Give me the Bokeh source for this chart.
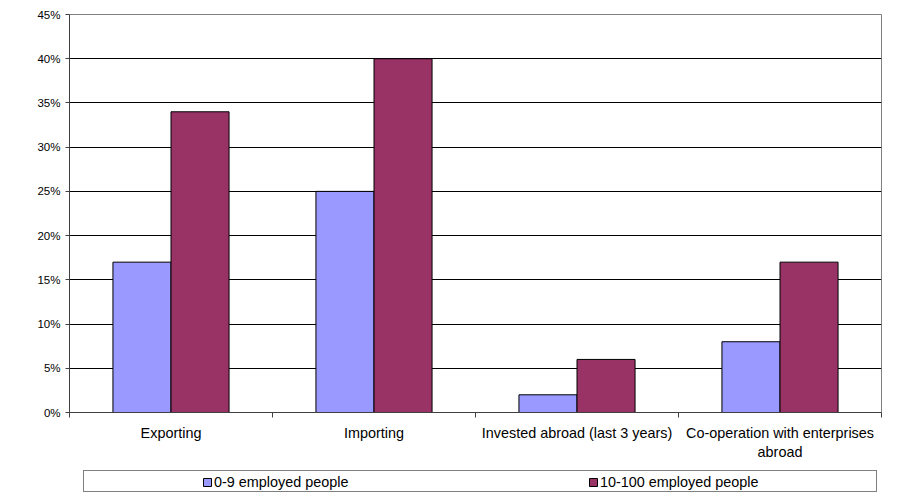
from bokeh.plotting import figure
from bokeh.layouts import column
from bokeh.models import (ColumnDataSource, Range1d, FixedTicker,
                          PrintfTickFormatter, Legend, LegendItem)
from bokeh.embed import file_html
from bokeh.resources import INLINE

# Share of enterprises (%) by activity and enterprise size
categories = ["Exporting", "Importing", "Invested abroad (last 3 years)",
              "Co-operation with enterprises\nabroad"]
small_firms = [17, 25, 2, 8]      # 0-9 employed people
larger_firms = [34, 40, 6, 17]    # 10-100 employed people
series_labels = ["0-9 employed people", "10-100 employed people"]
series_colors = ["#9999FF", "#993366"]
y_ticks = [0, 5, 10, 15, 20, 25, 30, 35, 40, 45]

FONT = "Liberation Sans"
TEXT_SIZE = "14.4px"

n = len(categories)
idx = list(range(n))
bar_w = 0.286

src = ColumnDataSource(dict(
    x_small=[i + 0.5 - bar_w / 2 for i in idx],
    x_large=[i + 0.5 + bar_w / 2 for i in idx],
    small=small_firms,
    large=larger_firms,
))

MAIN_H = 462
p = figure(width=900, height=MAIN_H, x_range=Range1d(0, n), y_range=Range1d(0, y_ticks[-1]),
           output_backend="svg", toolbar_location=None,
           min_border_left=69, min_border_right=19, min_border_top=14,
           min_border_bottom=MAIN_H - 412)
p.background_fill_color = "white"
p.border_fill_color = "white"
p.outline_line_color = "#808080"
p.outline_line_width = 1

bar_style = dict(line_color="black", line_width=1)
p.vbar(x="x_small", top="small", width=bar_w, source=src,
       fill_color=series_colors[0], **bar_style)
p.vbar(x="x_large", top="large", width=bar_w, source=src,
       fill_color=series_colors[1], **bar_style)

# x axis: labels at category centres, tick marks at category boundaries
xa = p.xaxis[0]
xa.ticker = FixedTicker(ticks=[i + 0.5 for i in idx], minor_ticks=list(range(n + 1)))
xa.major_label_overrides = {i + 0.5: c for i, c in zip(idx, categories)}
xa.major_tick_out = 0
xa.major_tick_in = 0
xa.minor_tick_out = 5
xa.minor_tick_in = 0
xa.minor_tick_line_color = "#404040"
xa.axis_line_color = "#404040"
xa.major_label_standoff = 7
xa.major_label_text_font = FONT
xa.major_label_text_font_size = TEXT_SIZE
xa.major_label_text_color = "black"

ya = p.yaxis[0]
ya.ticker = FixedTicker(ticks=y_ticks)
ya.formatter = PrintfTickFormatter(format="%d%%")
ya.major_tick_out = 4
ya.major_tick_in = 0
ya.minor_tick_out = 0
ya.minor_tick_in = 0
ya.major_tick_line_color = "#404040"
ya.axis_line_color = "#404040"
ya.major_label_standoff = 5
ya.major_label_text_font = FONT
ya.major_label_text_font_size = "11.5px"
ya.major_label_text_color = "black"

p.xgrid.visible = False
p.ygrid.ticker = FixedTicker(ticks=y_ticks[1:-1])
p.ygrid.grid_line_color = "black"
p.ygrid.grid_line_width = 1

# legend strip below the chart; the swatch renderers are hidden and only
# provide the legend glyphs
leg = figure(width=900, height=498 - MAIN_H, x_range=p.x_range, y_range=Range1d(0, 1),
             x_axis_type=None, y_axis_type=None,
             output_backend="svg", toolbar_location=None,
             min_border_left=69, min_border_right=19, min_border_top=0, min_border_bottom=0)
leg.background_fill_color = "white"
leg.border_fill_color = "white"
leg.outline_line_color = None
leg.grid.visible = False

sw_small = leg.vbar(x="x_small", top="small", width=bar_w, source=src,
                    fill_color=series_colors[0], **bar_style)
sw_large = leg.vbar(x="x_large", top="large", width=bar_w, source=src,
                    fill_color=series_colors[1], **bar_style)
box_r = leg.vbar(x="x_small", top="small", width=bar_w, source=src,
                 fill_alpha=0, line_alpha=0)
for r in (sw_small, sw_large, box_r):
    r.visible = False

# outer legend box
box_legend = Legend(
    items=[LegendItem(label=" ", renderers=[box_r])],
    location=(14, 6), orientation="horizontal",
    padding=0, margin=0, spacing=0,
    glyph_width=792, glyph_height=20, label_standoff=0, label_width=0, label_height=20,
    border_line_color="black", border_line_width=1,
    background_fill_color="white", background_fill_alpha=1,
    label_text_font=FONT, label_text_font_size=TEXT_SIZE,
)
leg.add_layout(box_legend)

series_legend = Legend(
    items=[LegendItem(label=series_labels[0], renderers=[sw_small]),
           LegendItem(label=series_labels[1], renderers=[sw_large])],
    location=(133, 6), orientation="horizontal",
    padding=0, margin=0, spacing=0,
    glyph_width=10, glyph_height=10, label_standoff=2, label_width=374, label_height=20,
    border_line_alpha=0, background_fill_alpha=0,
    label_text_font=FONT, label_text_font_size=TEXT_SIZE, label_text_color="black",
)
leg.add_layout(series_legend)

layout = column(p, leg, spacing=0)
open("out.html", "w").write(file_html(layout, INLINE))
